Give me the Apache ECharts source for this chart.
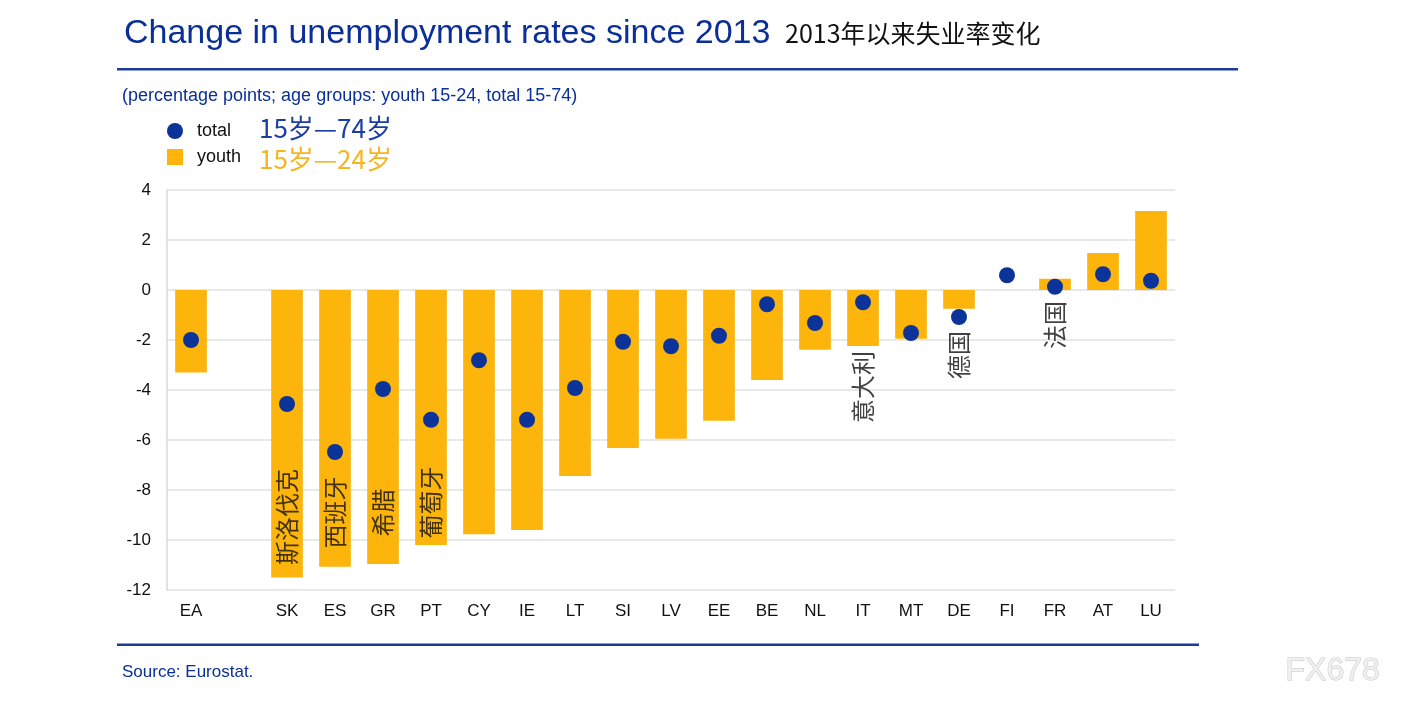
<!DOCTYPE html>
<html>
<head>
<meta charset="utf-8">
<script src="https://cdn.jsdelivr.net/npm/echarts@6/dist/echarts.min.js"></script>
<style>
html,body{margin:0;padding:0;background:#fff;}
#c{width:1413px;height:706px;}
</style>
</head>
<body>
<div id="c"></div>
<script>
const categories = ['EA','','SK','ES','GR','PT','CY','IE','LT','SI','LV','EE','BE','NL','IT','MT','DE','FI','FR','AT','LU'];
const youth = [-3.3,null,-11.5,-11.07,-10.96,-10.2,-9.77,-9.6,-7.44,-6.32,-5.95,-5.23,-3.6,-2.39,-2.24,-1.95,-0.75,null,0.45,1.48,3.16];
const total = [-2.0,null,-4.56,-6.48,-3.96,-5.19,-2.81,-5.19,-3.92,-2.07,-2.25,-1.83,-0.57,-1.32,-0.49,-1.72,-1.08,0.59,0.13,0.63,0.37];
const yTicks = {min:-12, max:4, interval:2};
const annCats = ['SK','ES','GR','PT','IT','DE','FR'];
const annY = [-9.08,-8.9,-8.9,-8.5,-3.88,-2.6,-1.4];
const annText = ['斯洛伐克','西班牙','希腊','葡萄牙','意大利','德国','法国'];

const BLUE = '#0a2f96';
const DOT = '#0b3399';
const ORANGE = '#fdb50b';
const chart = echarts.init(document.getElementById('c'), null, {renderer:'canvas'});
const font = '"Liberation Sans", Arial, sans-serif';
const cjk = '"Noto Sans CJK SC", sans-serif';

chart.setOption({
  animation:false,
  backgroundColor:'#fff',
  grid:{left:167, right:238, top:190, bottom:116, containLabel:false},
  legend:{
    data:[{name:'total', icon:'circle'},{name:'youth', icon:'rect'}],
    orient:'vertical', left:162, top:117, itemWidth:16, itemHeight:16, itemGap:8,
    textStyle:{fontFamily:font, fontSize:18, color:'#111', padding:[0,0,0,9]}
  },
  xAxis:{
    type:'category', data:categories,
    axisLine:{show:false}, axisTick:{show:false},
    axisLabel:{fontFamily:font, fontSize:17, color:'#111', margin:13},
    splitLine:{show:false}
  },
  yAxis:{
    type:'value', min:yTicks.min, max:yTicks.max, interval:yTicks.interval,
    axisLine:{show:true, lineStyle:{color:'#d9d9d9', width:1.5}},
    axisTick:{show:false},
    axisLabel:{fontFamily:font, fontSize:17, color:'#111', margin:16},
    splitLine:{show:true, lineStyle:{color:'#e0e0e0', width:1.5}}
  },
  series:[
    {name:'youth', type:'bar', data:youth, barWidth:'66%', itemStyle:{color:ORANGE}, z:2},
    {name:'total', type:'scatter', data:total, symbol:'circle', symbolSize:16, itemStyle:{color:DOT, opacity:1}, z:3},
    {name:'ann', type:'scatter', symbolSize:0, silent:true, z:4,
      data: annCats.map((c,i)=>({value:[c, annY[i]], label:{formatter:annText[i]}})),
      label:{show:true, position:'inside', rotate:90, fontFamily:cjk, fontSize:24, color:'#111'}
    }
  ],
  graphic:[
    {type:'text', left:124, top:17, style:{text:'Change in unemployment rates since 2013', font:'34px '+font, fill:BLUE}},
    {type:'text', left:785, top:21, style:{text:'2013年以来失业率变化', font:'25px '+cjk, fill:'#111'}},
    {type:'rect', shape:{x:117, y:68, width:1121, height:2.5}, style:{fill:'#1d3c98'}},
    {type:'text', left:122, top:87, style:{text:'(percentage points; age groups: youth 15-24, total 15-74)', font:'18px '+font, fill:BLUE}},
    {type:'text', left:259, top:115, style:{text:'15岁—74岁', font:'26px '+cjk, fill:'#1a3fa0'}},
    {type:'text', left:259, top:146, style:{text:'15岁—24岁', font:'26px '+cjk, fill:'#f6b524'}},
    {type:'rect', shape:{x:117, y:643.5, width:1082, height:2.5}, style:{fill:'#1d3c98'}},
    {type:'text', left:122, top:664, style:{text:'Source: Eurostat.', font:'17px '+font, fill:BLUE}},
    {type:'text', left:1285, top:655, style:{text:'FX678', font:'32px '+font, fill:'#f0f0f0', stroke:'#c4c4c4', lineWidth:1}}
  ]
});
</script>
</body>
</html>
